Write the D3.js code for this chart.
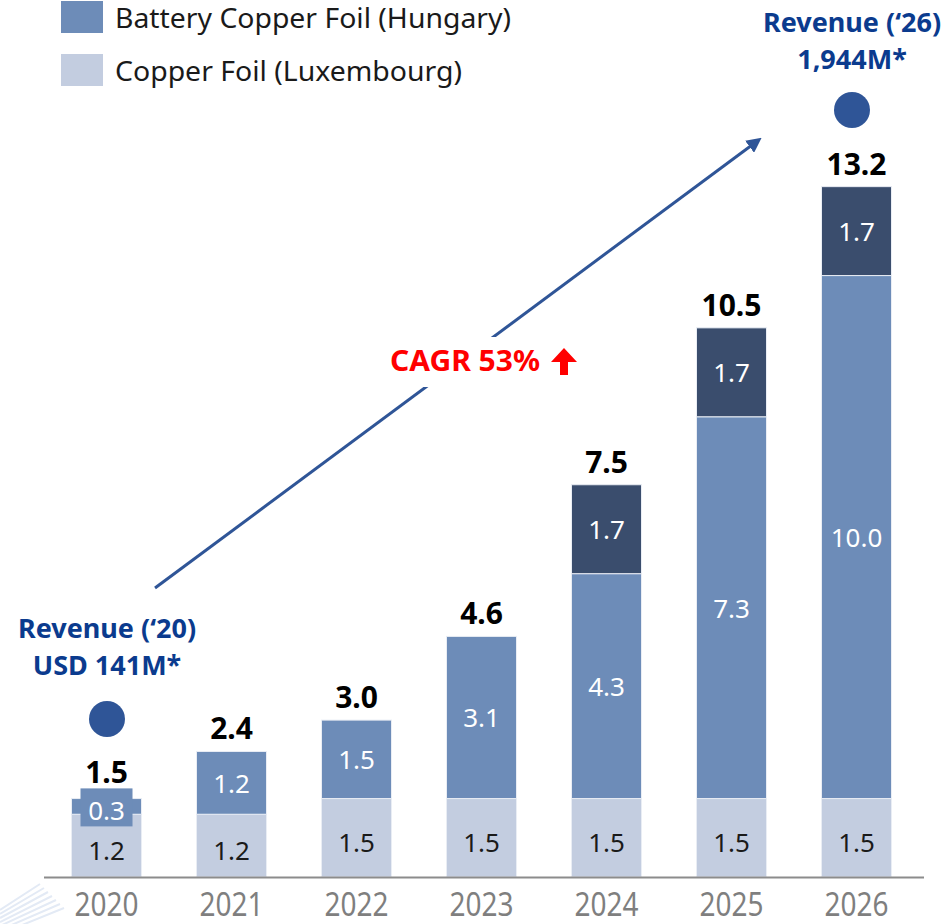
<!DOCTYPE html>
<meta charset="utf-8">
<style>
  body { margin: 0; background: #fff; }
  svg text { font-family: "Noto Sans", "Open Sans", sans-serif; }
</style>
<body>
<svg width="951" height="924"></svg>
<script src="https://d3js.org/d3.v7.min.js"></script>
<script>
// data
var years = ["2020", "2021", "2022", "2023", "2024", "2025", "2026"];
var luxembourg = [1.2, 1.2, 1.5, 1.5, 1.5, 1.5, 1.5];
var hungary = [0.3, 1.2, 1.5, 3.1, 4.3, 7.3, 10.0];
var hungaryPhase2 = [0, 0, 0, 0, 1.7, 1.7, 1.7];
var totals = ["1.5", "2.4", "3.0", "4.6", "7.5", "10.5", "13.2"];
var legendLabels = ["Battery Copper Foil (Hungary)", "Copper Foil (Luxembourg)"];

var colLight = "#c3cde0", colMid = "#6d8cb8", colDark = "#3a4d6d";
var blueText = "#0b3b8e", blueMark = "#2f5597";

var svg = d3.select("svg");

var x = d3.scaleBand()
  .domain(years)
  .range([44, 919])
  .paddingInner(0.44)
  .paddingOuter(0.22);

var y = d3.scaleLinear()
  .domain([0, 14])
  .range([877, 877 - 14 * 52.3]);

// faint decoration bottom left
var deco = svg.append("g").attr("stroke", "#e3eaf5").attr("stroke-width", 2);
for (var i = 0; i < 7; i++) {
  deco.append("line")
    .attr("x1", 0).attr("y1", 910 + i * 4)
    .attr("x2", 40 + i * 4).attr("y2", 884 + i * 4);
}

// stacked segments
var rows = years.map(function (yr, i) {
  return { year: yr, segs: [
    { v0: 0, v1: luxembourg[i], val: luxembourg[i], fill: colLight, txt: "#1a1a1a" },
    { v0: luxembourg[i], v1: luxembourg[i] + hungary[i], val: hungary[i], fill: colMid, txt: "#fff" },
    { v0: luxembourg[i] + hungary[i], v1: luxembourg[i] + hungary[i] + hungaryPhase2[i], val: hungaryPhase2[i], fill: colDark, txt: "#fff" }
  ]};
});

var barG = svg.append("g");
rows.forEach(function (r, i) {
  var g = barG.append("g");
  r.segs.forEach(function (s) {
    if (s.val <= 0) return;
    g.append("rect")
      .attr("x", x(r.year))
      .attr("y", y(s.v1))
      .attr("width", x.bandwidth())
      .attr("height", y(s.v0) - y(s.v1))
      .attr("fill", s.fill)
      .attr("stroke", "#e9edf4")
      .attr("stroke-width", 1);
  });
  r.segs.forEach(function (s) {
    if (s.val <= 0) return;
    var cx = x(r.year) + x.bandwidth() / 2;
    var cy = (y(s.v0) + y(s.v1)) / 2;
    var small = (y(s.v0) - y(s.v1)) < 30;
    if (small) {
      // label box for a thin segment
      g.append("rect")
        .attr("x", cx - 26).attr("y", cy - 18)
        .attr("width", 52).attr("height", 38)
        .attr("fill", s.fill);
      cy = cy + 4;
    } else if (s.fill === colLight) {
      cy = cy + 4;
    }
    g.append("text")
      .attr("x", cx).attr("y", cy)
      .attr("text-anchor", "middle")
      .attr("dominant-baseline", "central")
      .attr("font-size", 26)
      .attr("fill", s.txt)
      .text(d3.format(".1f")(s.val));
  });
  var top = r.segs[2].v1 > r.segs[1].v1 ? r.segs[2].v1 : r.segs[1].v1;
  g.append("text")
    .attr("x", x(r.year) + x.bandwidth() / 2)
    .attr("y", y(top) - (i === 0 ? 16 : 12))
    .attr("text-anchor", "middle")
    .attr("font-size", 30)
    .attr("font-weight", "bold")
    .attr("fill", "#000")
    .text(totals[i]);
});

// baseline axis
svg.append("line")
  .attr("x1", 44).attr("x2", 924)
  .attr("y1", y(0) + 0.5).attr("y2", y(0) + 0.5)
  .attr("stroke", "#8c8c8c").attr("stroke-width", 2);

var xAxis = svg.append("g")
  .attr("transform", "translate(0," + y(0) + ")")
  .call(d3.axisBottom(x).tickSize(0).tickPadding(0));
xAxis.select(".domain").remove();
xAxis.selectAll("text")
  .attr("y", 39)
  .attr("dy", 0)
  .attr("font-size", 32)
  .attr("fill", "#7f7f7f")
  .attr("textLength", 64)
  .attr("lengthAdjust", "spacingAndGlyphs")
  .style("font-family", "'Noto Sans', sans-serif");

// legend
var legend = svg.append("g");
[colMid, colLight].forEach(function (c, i) {
  legend.append("rect")
    .attr("x", 61).attr("y", 1 + i * 53)
    .attr("width", 42).attr("height", 32)
    .attr("fill", c);
  legend.append("text")
    .attr("x", 115).attr("y", 28 + i * 53)
    .attr("font-size", 27)
    .attr("fill", "#1a1a1a")
    .attr("textLength", i === 0 ? 396 : 347)
    .attr("lengthAdjust", "spacingAndGlyphs")
    .text(legendLabels[i]);
});

// growth arrow
svg.append("defs").append("marker")
  .attr("id", "arrowHead")
  .attr("viewBox", "0 0 10 10")
  .attr("refX", 2).attr("refY", 5)
  .attr("markerWidth", 5).attr("markerHeight", 5)
  .attr("orient", "auto")
  .append("path")
  .attr("d", "M0,0 L10,5 L0,10 Z")
  .attr("fill", blueMark);

svg.append("line")
  .attr("x1", 155).attr("y1", 588)
  .attr("x2", 752).attr("y2", 145)
  .attr("stroke", blueMark)
  .attr("stroke-width", 3)
  .attr("marker-end", "url(#arrowHead)");

svg.append("rect")
  .attr("x", 382).attr("y", 337)
  .attr("width", 202).attr("height", 50)
  .attr("fill", "#fff");
svg.append("text")
  .attr("x", 390).attr("y", 371)
  .attr("font-size", 28)
  .attr("font-weight", "bold")
  .attr("fill", "#ff0000")
  .attr("textLength", 150)
  .attr("lengthAdjust", "spacingAndGlyphs")
  .text("CAGR 53%");
svg.append("path")
  .attr("d", "M564,348 L577,362 L568,362 L568,375 L560,375 L560,362 L551,362 Z")
  .attr("fill", "#ff0000");

// revenue callouts
function callout(cx, lines, baseY, dotY) {
  lines.forEach(function (t, i) {
    svg.append("text")
      .attr("x", cx).attr("y", baseY + i * 37)
      .attr("text-anchor", "middle")
      .attr("font-size", 27)
      .attr("font-weight", "bold")
      .attr("fill", blueText)
      .text(t);
  });
  svg.append("circle")
    .attr("cx", cx).attr("cy", dotY).attr("r", 18)
    .attr("fill", blueMark);
}
callout(852, ["Revenue (\u201826)", "1,944M*"], 32, 110);
callout(107, ["Revenue (\u201820)", "USD 141M*"], 638, 719);
</script>
</body>
